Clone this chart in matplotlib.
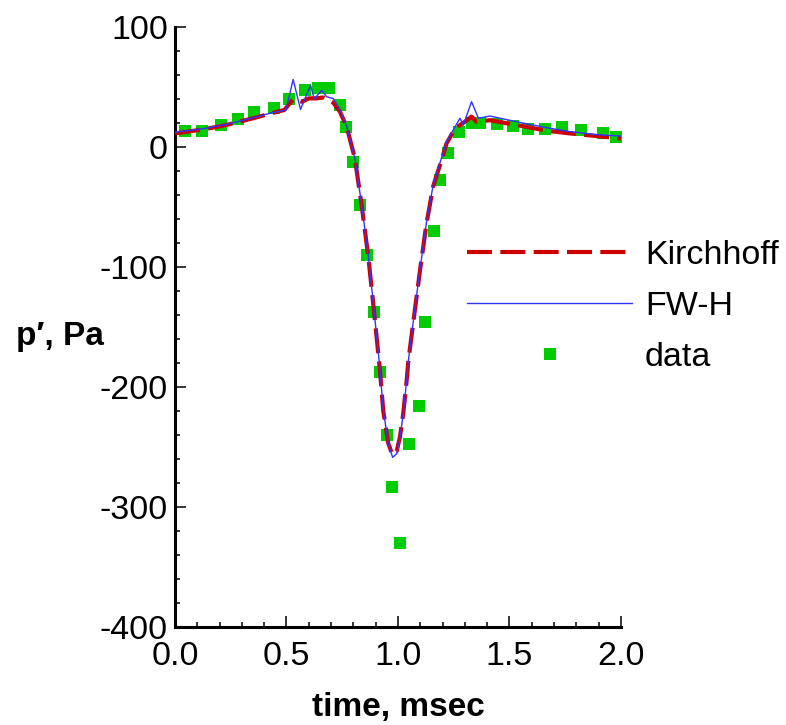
import matplotlib
matplotlib.use('Agg')
import matplotlib.pyplot as plt
from matplotlib.ticker import MultipleLocator

plt.rcParams['font.family'] = ['Liberation Sans', 'DejaVu Sans']

# Kirchhoff prediction
kir_t = [0.0, 0.13, 0.23, 0.35, 0.43, 0.49, 0.53, 0.57, 0.60, 0.635, 0.665, 0.71,
         0.74, 0.77, 0.807, 0.837, 0.867, 0.892, 0.919, 0.934, 0.956, 0.976, 0.994,
         1.009, 1.024, 1.039, 1.047, 1.076, 1.099, 1.128, 1.158, 1.196, 1.218, 1.256,
         1.30, 1.33, 1.352, 1.413, 1.532, 1.666, 1.771, 1.89, 2.0]
kir_p = [11, 14.4, 18, 23.6, 27.7, 30.5, 39.4, 37.4, 40.2, 40.2, 41, 36.6,
         29, 16.6, -10, -48.7, -91.7, -136, -186, -220, -247, -257, -254,
         -242, -222, -195, -178, -136, -103, -64, -33, -11, 2.7, 15.2,
         20.7, 25, 20.7, 22, 18, 13.3, 11, 8.8, 6.8]

# FW-H prediction
fwh_t = [0.0, 0.13, 0.23, 0.35, 0.43, 0.498, 0.53, 0.563, 0.608, 0.625, 0.658, 0.68,
         0.71, 0.74, 0.77, 0.807, 0.837, 0.867, 0.892, 0.919, 0.934, 0.956, 0.976,
         0.994, 1.009, 1.024, 1.039, 1.047, 1.076, 1.099, 1.128, 1.158, 1.196, 1.218,
         1.256, 1.278, 1.293, 1.33, 1.361, 1.413, 1.532, 1.666, 1.771, 1.89, 2.0]
fwh_p = [12, 15, 18.5, 24, 28, 30.5, 56, 31, 51, 39.7, 47, 41.6,
         40, 30.5, 17, -10, -48, -91, -135, -185, -219, -247, -259,
         -256, -243, -222, -195, -178, -135, -102, -63, -32, -9, 4,
         16.5, 23.6, 18, 37.4, 23.6, 25.5, 20.7, 15.8, 12.5, 10, 8.8]

# measured data
dat_t = [0.045, 0.12, 0.206, 0.283, 0.356, 0.443, 0.511, 0.583, 0.641, 0.69, 0.74,
         0.767, 0.80, 0.83, 0.86, 0.892, 0.919, 0.95, 0.973, 1.009, 1.049, 1.094,
         1.121, 1.161, 1.188, 1.224, 1.274, 1.33, 1.368, 1.442, 1.518, 1.583, 1.659,
         1.735, 1.82, 1.919, 1.976]
dat_p = [13, 13, 18, 23, 29, 32, 40, 47, 49, 49, 35,
         16, -13, -49, -90, -138, -188, -240, -284, -330, -248, -216,
         -146, -70, -28, -5, 12, 20, 20, 19, 17, 15, 15,
         16, 14, 11, 8]

fig = plt.figure(figsize=(7.86, 7.25), dpi=100)
ax = fig.add_axes([0.2226, 0.1357, 0.5674, 0.8276])

d, = ax.plot(dat_t, dat_p, 's', color='#00cc00', markersize=8.5, mew=0,
             linestyle='none', label='data', zorder=2)
k, = ax.plot(kir_t, kir_p, color='#cc0000', lw=3, dashes=(6, 2),
             label='Kirchhoff', zorder=3)
f, = ax.plot(fwh_t, fwh_p, color='#3333ff', lw=1, label='FW-H', zorder=4)

ax.set_xlim(0, 2)
ax.set_ylim(-400, 100)
ax.xaxis.set_major_locator(MultipleLocator(0.5))
ax.xaxis.set_minor_locator(MultipleLocator(0.1))
ax.yaxis.set_major_locator(MultipleLocator(100))
ax.yaxis.set_minor_locator(MultipleLocator(20))
ax.xaxis.set_major_formatter(plt.FuncFormatter(lambda v, pos: f'{v:.1f}'))
ax.yaxis.set_major_formatter(plt.FuncFormatter(lambda v, pos: f'{v:.0f}'))

for s in ['top', 'right']:
    ax.spines[s].set_visible(False)
for s in ['left', 'bottom']:
    ax.spines[s].set_linewidth(2.2)

ax.tick_params(which='both', direction='in', width=1.1, labelsize=24.5)
ax.tick_params(which='major', length=8)
ax.tick_params(which='minor', length=3.6)
ax.tick_params(axis='x', pad=10)
ax.tick_params(axis='y', pad=5)

ax.set_xlabel('time, msec', fontsize=24, fontweight='bold', va='baseline')
ax.xaxis.set_label_coords(0.5, -0.149)
ax.set_ylabel('p\u2032, Pa', fontsize=24, fontweight='bold', rotation=0,
              ha='center', va='baseline')
ax.yaxis.set_label_coords(-0.258, 0.469)

leg = ax.legend([k, f, d], ['Kirchhoff', 'FW-H', 'data'], loc='upper left',
                bbox_to_anchor=(467 / 786, 1 - 240 / 725),
                bbox_transform=fig.transFigure, frameon=False, fontsize=24.5,
                handlelength=4.85, handletextpad=0.38, labelspacing=0.59,
                borderpad=0, borderaxespad=0, numpoints=1)

fig.savefig('out.png', dpi=100)
